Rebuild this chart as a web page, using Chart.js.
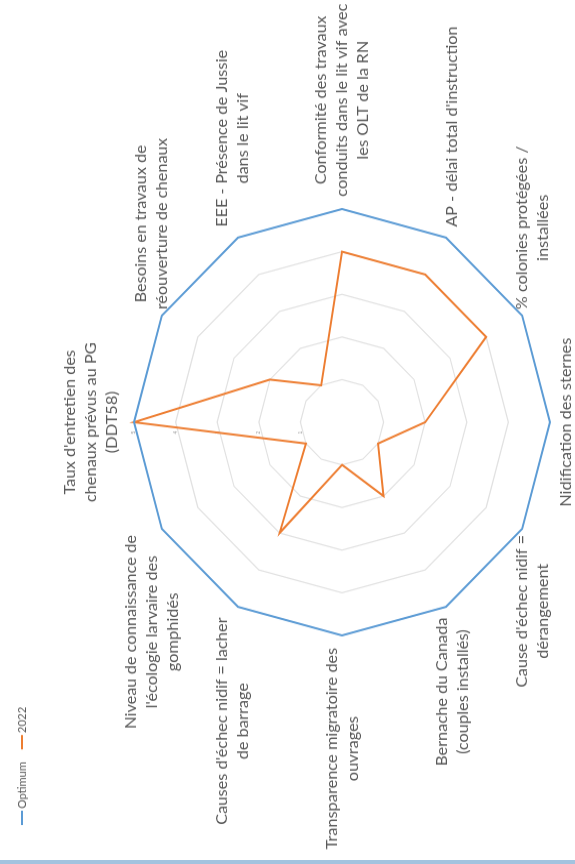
<!DOCTYPE html>
<html>
<head>
<meta charset="utf-8">
<script src="https://cdn.jsdelivr.net/npm/chart.js@4"></script>
<style>
  html, body { margin:0; padding:0; background:#fff; overflow:hidden; }
  body { width:575px; height:864px; position:relative; }
  /* le graphique est tourné d'un quart de tour (texte de bas en haut) */
  #wrap { position:absolute; left:0; top:0; width:843px; height:575px;
    transform-origin:0 0; transform: translate(0px, 864px) scale(1, 1.025) rotate(-90deg); }
  #strip { position:absolute; left:0; bottom:0; width:575px; height:4px; background:#a3c3df; }
</style>
</head>
<body>
<div id="wrap"><canvas id="radar" width="843" height="575"></canvas></div>
<div id="strip"></div>
<script>
// ========= Données =========
const categories = [
  ["Taux d'entretien des", "chenaux prévus au PG", "(DDT58)"],
  ["Besoins en travaux de", "réouverture de chenaux"],
  ["EEE - Présence de Jussie", "dans le lit vif"],
  ["Conformité des travaux", "conduits dans le lit vif avec", "les OLT de la RN"],
  ["AP - délai total d'instruction"],
  ["% colonies protégées /", "installées"],
  ["Nidification des sternes"],
  ["Cause d'échec nidif =", "dérangement"],
  ["Bernache du Canada", "(couples installés)"],
  ["Transparence migratoire des", "ouvrages"],
  ["Causes d'échec nidif = lacher", "de barrage"],
  ["Niveau de connaissance de", "l'écologie larvaire des", "gomphidés"]
];
const optimum    = [5, 5, 5, 5, 5, 5, 5, 5, 5, 5, 5, 5];
const values2022 = [5, 2, 1, 4, 4, 4, 2, 1, 2, 1, 3, 1];
const tickValues = [0, 1, 2, 3, 4, 5];
const seriesNames = ["Optimum", "2022"];

const colors = {blue:"#5B9BD5", orange:"#ED7D31", text:"#595959", grid:"#e1e1e1"};
const LABEL_FONT = 16, LINE_H = 21, LABEL_PAD = 12;

// ========= Étiquettes des axes + légende =========
const axisLabels = {
  id: "axisLabels",
  afterDraw(chart) {
    const r = chart.scales.r, ctx = chart.ctx;
    ctx.save();
    ctx.font = LABEL_FONT + "px Lato";
    ctx.fillStyle = colors.text;
    ctx.textAlign = "center";
    ctx.textBaseline = "middle";
    chart.data.labels.forEach((lab, i) => {
      const lines = [].concat(lab);
      const deg = Math.round(r.getIndexAngle(i) * 180 / Math.PI) % 360;
      const p = r.getPointPosition(i, r.drawingArea + (deg === 180 ? 5 : LABEL_PAD));
      const w = Math.max(...lines.map(l => ctx.measureText(l).width));
      const h = lines.length * LINE_H;
      let cx = p.x, top = p.y - h / 2;
      if (deg === 0) top = p.y - h;
      else if (deg === 180) top = p.y;
      else if (deg < 180) cx = p.x + w / 2;
      else cx = p.x - w / 2;
      lines.forEach((l, k) => ctx.fillText(l, cx, top + k * LINE_H + LINE_H / 2));
    });
    // légende
    ctx.font = "11px Lato";
    ctx.textAlign = "left";
    let x = 38;
    const y = 22;
    chart.data.datasets.forEach(ds => {
      ctx.strokeStyle = ds.borderColor;
      ctx.lineWidth = 2;
      ctx.beginPath(); ctx.moveTo(x, y); ctx.lineTo(x + 14, y); ctx.stroke();
      ctx.fillStyle = colors.text;
      ctx.fillText(ds.label, x + 16, y);
      x += 16 + ctx.measureText(ds.label).width + 12;
    });
    ctx.restore();
  }
};

// ========= Chart.js =========
new Chart(document.getElementById("radar"), {
  type: "radar",
  data: {
    labels: categories,
    datasets: [
      {label: seriesNames[0], data: optimum, borderColor: colors.blue, borderWidth: 2,
       backgroundColor: "transparent", pointRadius: 0, fill: false},
      {label: seriesNames[1], data: values2022, borderColor: colors.orange, borderWidth: 2,
       backgroundColor: "transparent", pointRadius: 0, fill: false}
    ]
  },
  options: {
    responsive: false,
    animation: false,
    layout: {padding: {left: 221, right: 201, top: 132, bottom: 22}},
    plugins: {legend: {display: false}, tooltip: {enabled: false}},
    scales: {
      r: {
        min: tickValues[0],
        max: tickValues[tickValues.length - 1],
        ticks: {stepSize: 1, font: {size: 5}, color: "#9a9a9a", showLabelBackdrop: false,
                backdropPadding: 0, callback: v => v + "\u2003\u2003\u2003\u2003"},
        grid: {color: colors.grid, lineWidth: 1.2},
        angleLines: {display: false},
        pointLabels: {display: false}
      }
    }
  },
  plugins: [axisLabels]
});
</script>
</body>
</html>
